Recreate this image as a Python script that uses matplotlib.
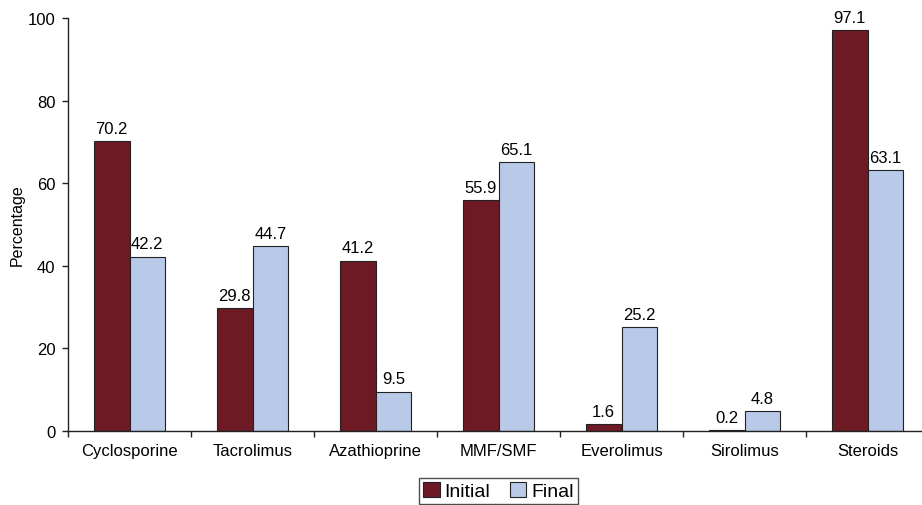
import matplotlib.pyplot as plt
import numpy as np

plt.rcParams['font.family'] = ['Liberation Sans', 'DejaVu Sans']

drugs = ['Cyclosporine', 'Tacrolimus', 'Azathioprine', 'MMF/SMF',
         'Everolimus', 'Sirolimus', 'Steroids']
initial = [70.2, 29.8, 41.2, 55.9, 1.6, 0.2, 97.1]
final = [42.2, 44.7, 9.5, 65.1, 25.2, 4.8, 63.1]

fig = plt.figure(figsize=(9.22, 5.06), dpi=100)
ax = fig.add_axes([68 / 922, 1 - 432 / 506, 861 / 922, 413 / 506])

x = np.arange(len(drugs))
w = 0.29
b1 = ax.bar(x - w / 2, initial, w, color='#6E1A25', edgecolor='#222222',
            linewidth=0.8, label='Initial')
b2 = ax.bar(x + w / 2, final, w, color='#B9C9E8', edgecolor='#222222',
            linewidth=0.8, label='Final')

# value labels above each bar
for bars in (b1, b2):
    for r in bars:
        h = r.get_height()
        ax.text(r.get_x() + r.get_width() / 2, h + 1.3, f'{h:.1f}',
                ha='center', va='bottom', fontsize=12)

ax.set_xlim(-0.5, len(drugs) - 0.5)
ax.set_ylim(0, 100)
ax.set_yticks(range(0, 101, 20))
ax.set_ylabel('Percentage', fontsize=11.5, labelpad=2)

# category labels centered, tick marks on group boundaries
ax.set_xticks(x)
ax.set_xticklabels(drugs, fontsize=12)
ax.tick_params(axis='x', length=0, pad=9)
ax.set_xticks(np.arange(len(drugs) + 1) - 0.5, minor=True)
ax.tick_params(axis='x', which='minor', length=4, width=1, color='#222222')
ax.tick_params(axis='y', length=4, width=1, color='#222222', labelsize=12, pad=5)

for s in ['top', 'right']:
    ax.spines[s].set_visible(False)
for s in ['left', 'bottom']:
    ax.spines[s].set_color('#222222')
    ax.spines[s].set_linewidth(1)

leg = ax.legend(loc='upper center', bbox_to_anchor=(0.5, -0.114), ncol=2,
                fontsize=14, frameon=True, fancybox=False, edgecolor='#222222',
                handlelength=0.85, handleheight=0.85, handletextpad=0.25,
                columnspacing=1.0, borderpad=0.2, borderaxespad=0)
leg.get_frame().set_linewidth(1)

fig.savefig('out.png', dpi=100)
